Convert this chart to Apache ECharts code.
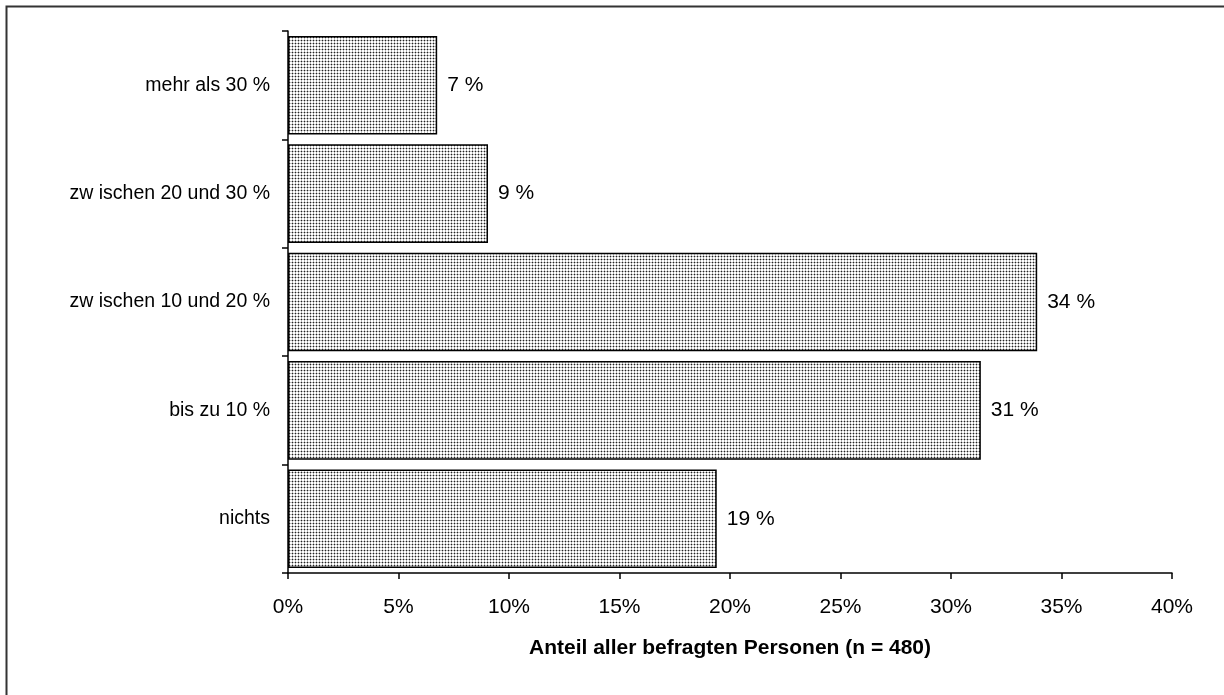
<!DOCTYPE html>
<html><head><meta charset="utf-8">
<script src="https://cdn.jsdelivr.net/npm/echarts@6/dist/echarts.min.js"></script>
<style>html,body{margin:0;padding:0;background:#fff}#c{width:1224px;height:695px}</style>
</head><body><div id="c"></div>
<script>
const categories = ['nichts', 'bis zu 10 %', 'zwischen 10 und 20 %', 'zw ischen 20 und 30 %', 'mehr als 30 %'];
const categoryLabels = ['nichts', 'bis zu 10 %', 'zw ischen 10 und 20 %', 'zw ischen 20 und 30 %', 'mehr als 30 %'];
const values = [19.4, 31.35, 33.9, 9.05, 6.75];
const valueLabels = ['19 %', '31 %', '34 %', '9 %', '7 %'];
const xTicks = [0, 5, 10, 15, 20, 25, 30, 35, 40];

function makePattern() {
  const c = document.createElement('canvas');
  c.width = 3; c.height = 3;
  const g = c.getContext('2d');
  g.fillStyle = '#ffffff'; g.fillRect(0, 0, 3, 3);
  g.fillStyle = '#b8b8b8';
  g.fillRect(0, 1, 3, 1); g.fillRect(1, 0, 1, 3);
  g.fillStyle = '#222222'; g.fillRect(1, 1, 1, 1);
  return c;
}

const chart = echarts.init(document.getElementById('c'), null, {renderer: 'canvas'});
const font = 'Liberation Sans, Arial, sans-serif';
chart.setOption({
  animation: false,
  backgroundColor: '#fff',
  graphic: [{
    type: 'rect', shape: {x: 6.5, y: 6.5, width: 1240, height: 720},
    style: {fill: 'none', stroke: '#333', lineWidth: 2}, silent: true, z: 100
  }],
  grid: {left: 288, right: 52, top: 31, bottom: 122, containLabel: false},
  xAxis: {
    type: 'value', min: 0, max: 40, interval: 5,
    axisLine: {show: true, lineStyle: {color: '#000', width: 1.5}},
    axisTick: {show: true, length: 6, lineStyle: {color: '#000', width: 1.5}},
    splitLine: {show: false},
    axisLabel: {color: '#000', fontFamily: font, fontSize: 21, margin: 24,
      formatter: v => xTicks.includes(v) ? v + '%' : ''},
    name: 'Anteil aller befragten Personen (n = 480)',
    nameLocation: 'middle', nameGap: 65,
    nameTextStyle: {color: '#000', fontFamily: font, fontSize: 21, fontWeight: 'bold'}
  },
  yAxis: {
    type: 'category', data: categoryLabels,
    axisLine: {show: true, lineStyle: {color: '#000', width: 1.5}},
    axisTick: {show: true, length: 6, lineStyle: {color: '#000', width: 1.5}},
    axisLabel: {color: '#000', fontFamily: font, fontSize: 19.5, margin: 18}
  },
  series: [{
    type: 'bar',
    data: values,
    barCategoryGap: '9%',
    itemStyle: {color: {image: makePattern(), repeat: 'repeat'}, borderColor: '#000', borderWidth: 1.5},
    label: {show: true, position: 'right', distance: 10, color: '#000', fontFamily: font, fontSize: 21,
      formatter: p => valueLabels[p.dataIndex]}
  }]
});
</script></body></html>
